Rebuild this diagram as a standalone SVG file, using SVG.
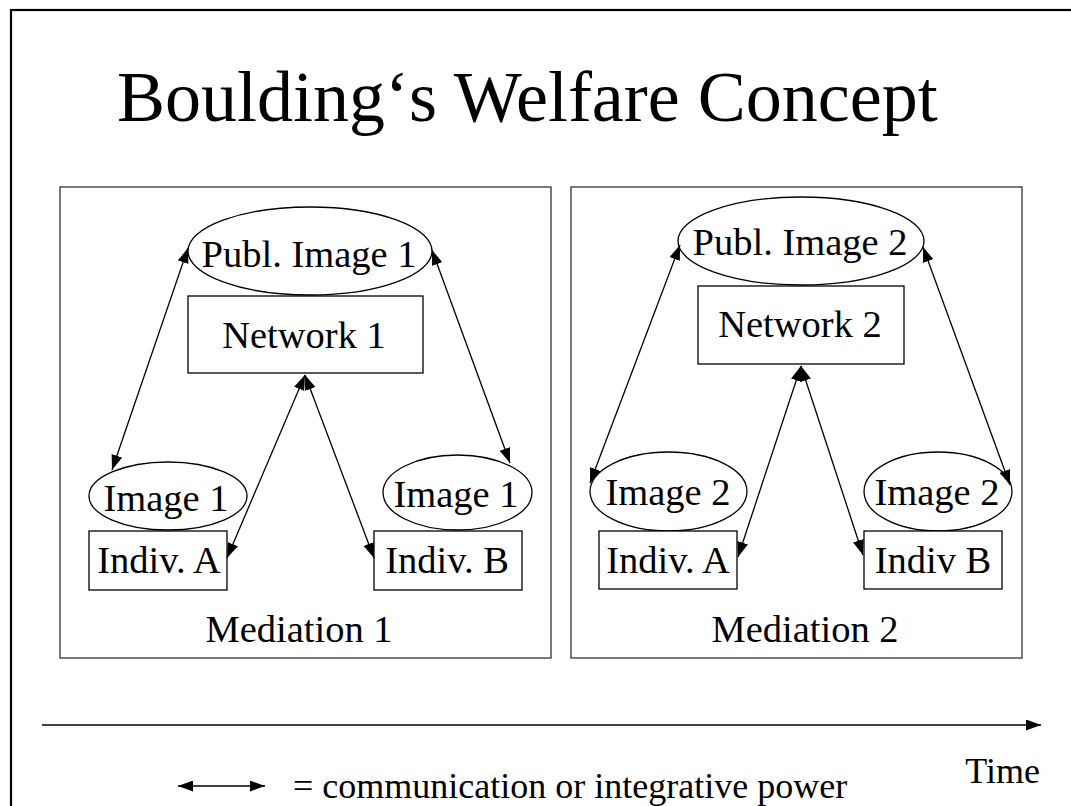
<svg xmlns="http://www.w3.org/2000/svg" width="1071" height="806" viewBox="0 0 1071 806">
<style>
text{font-family:"Liberation Serif","Times New Roman",serif;fill:#000}
.t{font-size:72px}
.n{font-size:38.5px;text-anchor:middle}
.l{font-size:36px}
.panel{fill:none;stroke:#333;stroke-width:1.3}
.shape{fill:#fff;stroke:#000;stroke-width:1.3}
.c{stroke:#000;stroke-width:1.3;fill:none;marker-start:url(#ah);marker-end:url(#ah)}
</style>
<defs>
<marker id="ah" viewBox="0 0 15 11" refX="15" refY="5.5" markerWidth="15" markerHeight="11" markerUnits="userSpaceOnUse" orient="auto-start-reverse">
<path d="M0,0 L15,5.5 L0,11 Z" fill="#000"/>
</marker>
</defs>
<rect x="0" y="0" width="1071" height="806" fill="#fff"/>
<rect x="11" y="10" width="1080" height="820" fill="none" stroke="#000" stroke-width="2.2"/>
<text class="t" x="117" y="121">Boulding‘s Welfare Concept</text>

<g id="panel1">
<rect class="panel" x="60" y="187" width="491" height="471"/>
<text class="n" x="299" y="642">Mediation 1</text>
</g>
<g id="panel2">
<rect class="panel" x="571" y="187" width="451" height="471"/>
<text class="n" x="805" y="642">Mediation 2</text>
</g>

<g id="publ1"><ellipse class="shape" cx="310" cy="251" rx="122" ry="44"/><text class="n" x="309" y="267">Publ. Image 1</text></g>
<g id="net1"><rect class="shape" x="188" y="296" width="235" height="77"/><text class="n" x="304" y="348">Network 1</text></g>
<g id="img1a"><ellipse class="shape" cx="168" cy="496" rx="79" ry="34"/><text class="n" x="166" y="511">Image 1</text></g>
<g id="indA1"><rect class="shape" x="89" y="531" width="138" height="59"/><text class="n" x="159" y="573">Indiv. A</text></g>
<g id="img1b"><ellipse class="shape" cx="457.5" cy="492.5" rx="74.5" ry="37.5"/><text class="n" x="456" y="507">Image 1</text></g>
<g id="indB1"><rect class="shape" x="374" y="531" width="148" height="59"/><text class="n" x="447" y="573">Indiv. B</text></g>

<g id="publ2"><ellipse class="shape" cx="801" cy="241" rx="123" ry="44"/><text class="n" x="800" y="255">Publ. Image 2</text></g>
<g id="net2"><rect class="shape" x="698" y="286" width="206" height="78"/><text class="n" x="800" y="337">Network 2</text></g>
<g id="img2a"><ellipse class="shape" cx="668.5" cy="491.5" rx="78.5" ry="39.5"/><text class="n" x="668" y="505">Image 2</text></g>
<g id="indA2"><rect class="shape" x="599" y="531" width="138" height="58"/><text class="n" x="668" y="573">Indiv. A</text></g>
<g id="img2b"><ellipse class="shape" cx="938" cy="491.5" rx="74" ry="39.5"/><text class="n" x="937" y="505">Image 2</text></g>
<g id="indB2"><rect class="shape" x="864" y="531" width="138" height="58"/><text class="n" x="933" y="573">Indiv B</text></g>

<g id="connectors">
<line class="c" x1="188" y1="248" x2="112" y2="470"/>
<line class="c" x1="432" y1="250" x2="510" y2="463"/>
<line class="c" x1="305" y1="375" x2="227" y2="558"/>
<line class="c" x1="305" y1="375" x2="374" y2="558"/>
<line class="c" x1="680" y1="245" x2="590" y2="483"/>
<line class="c" x1="923" y1="247" x2="1010" y2="485"/>
<line class="c" x1="801" y1="366" x2="738" y2="557"/>
<line class="c" x1="801" y1="366" x2="863" y2="555"/>
</g>

<g id="timeline">
<line x1="42" y1="725" x2="1041" y2="725" stroke="#000" stroke-width="1.3" marker-end="url(#ah)"/>
<text class="l" x="1040" y="783" text-anchor="end">Time</text>
</g>
<g id="legend">
<line class="c" x1="178" y1="786" x2="265" y2="786"/>
<text class="l" x="293" y="798">= communication or integrative power</text>
</g>
</svg>
